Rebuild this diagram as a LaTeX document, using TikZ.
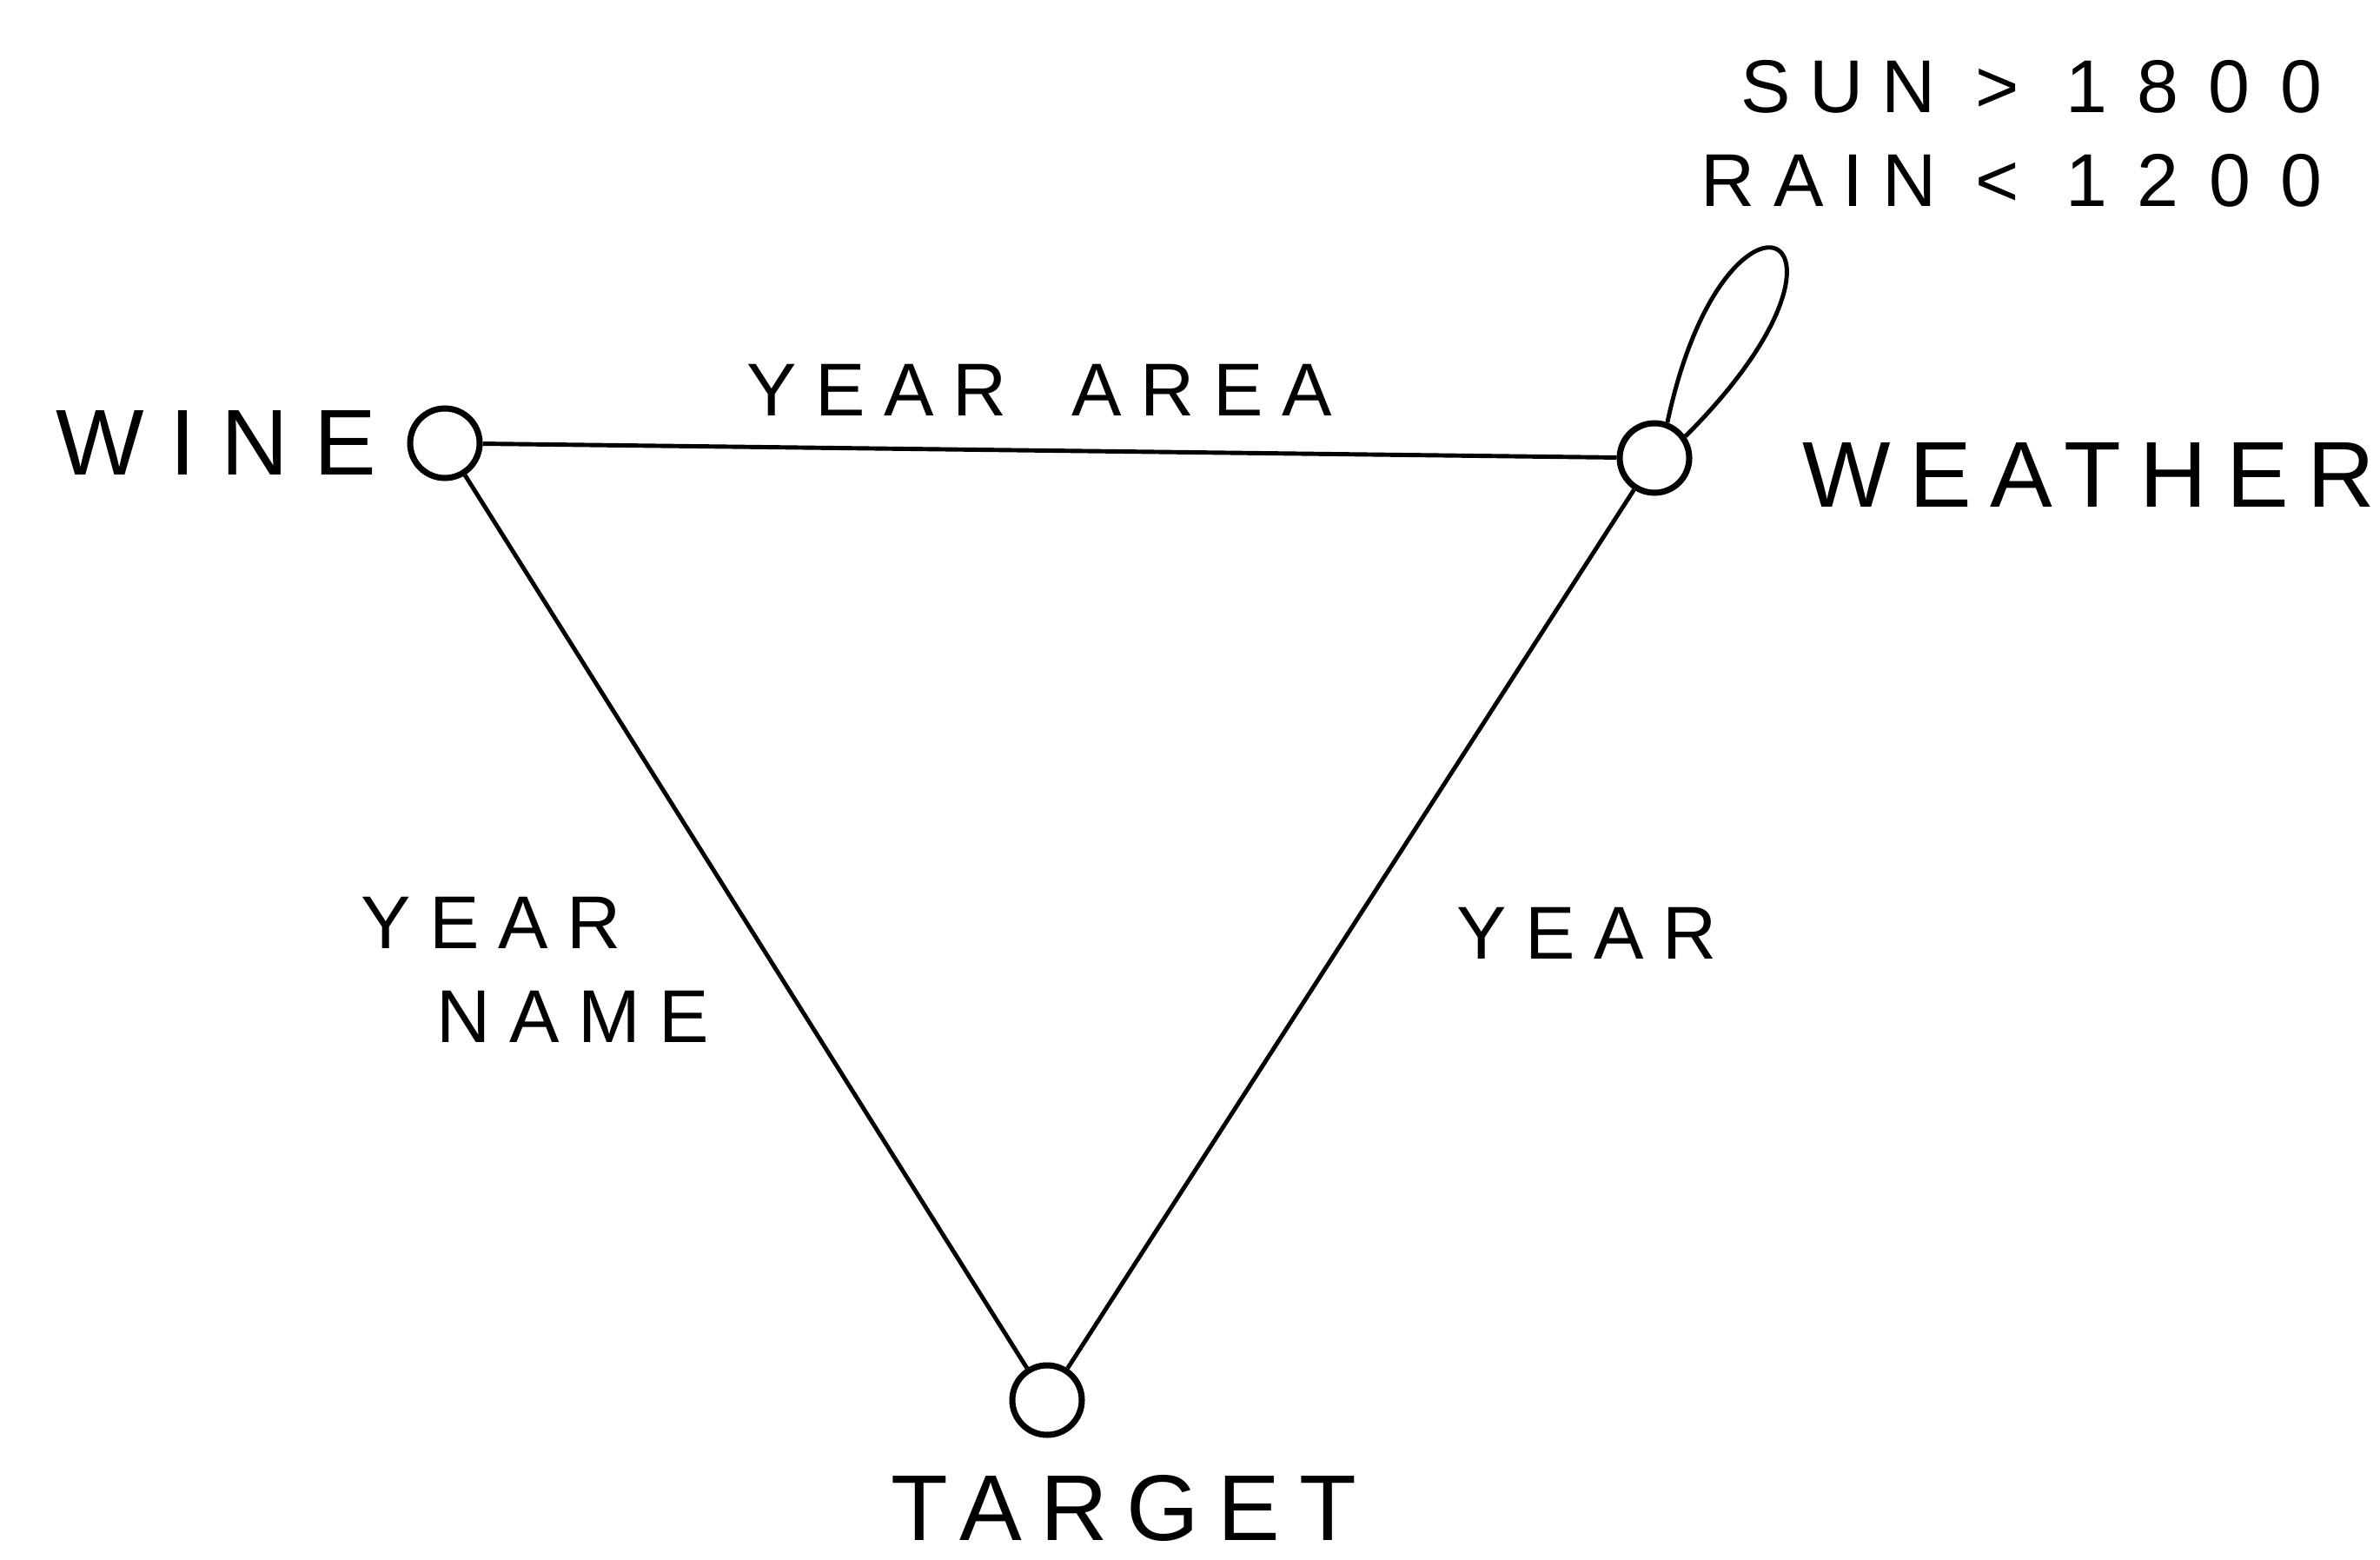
\documentclass[tikz,border=0pt]{standalone}
\usepackage{fontspec}
\setmainfont{Liberation Sans}
\newfontfamily\bigletters[LetterSpace=20]{Liberation Sans}
\newfontfamily\smallletters[LetterSpace=25]{Liberation Sans}
\newcommand{\figs}[1]{\hspace{0.08cm}{\addfontfeature{LetterSpace=40}#1}}
\usetikzlibrary{positioning}

\tikzset{
	vertex/.style={circle, draw, line width=2pt, minimum size=0.8cm, inner sep=0pt},
	vname/.style={inner sep=0pt, font=\bigletters\fontsize{30.6pt}{36pt}\selectfont},
	elabel/.style={inner sep=0pt, font=\smallletters\fontsize{24.5pt}{30.7pt}\selectfont},
	link/.style={line width=1.4pt}
}

\begin{document}
\begin{tikzpicture}
	\useasboundingbox (0,0) rectangle (27.39,17.94);

	\node[vertex] (wine) at (5.12,12.84) {};
	\node[vertex] (weather) at (19.04,12.67) {};
	\node[vertex] (target) at (12.05,1.83) {};

	\node[vname, left=0.35cm of wine] (winename) {\addfontfeature{LetterSpace=27}WINE};
	\node[vname, right=1.26cm of weather, yshift=-0.2cm] (weathername) {WEATHER};
	\node[vname, below=0.42cm of target, xshift=0.88cm] (targetname) {TARGET};

	\draw[link]
	(wine) edge node[elabel, above=0.38cm, xshift=-0.12cm] {YEAR\hspace{0.3cm} AREA} (weather)
	(wine) edge node[elabel, pos=0.554, left=0.75cm, align=left] {YEAR\\\hspace*{0.87cm}NAME} (target)
	(weather) edge node[elabel, pos=0.505, right=1.23cm] {YEAR} (target)
	(weather.70) .. controls +(78:3.2) and +(45:3.4) .. (weather.35);

	\node[elabel, anchor=east, align=right] (limits) at (26.73,16.40)
	{SUN > \figs{1800}\\RAIN < \figs{1200}};

\end{tikzpicture}
\end{document}
